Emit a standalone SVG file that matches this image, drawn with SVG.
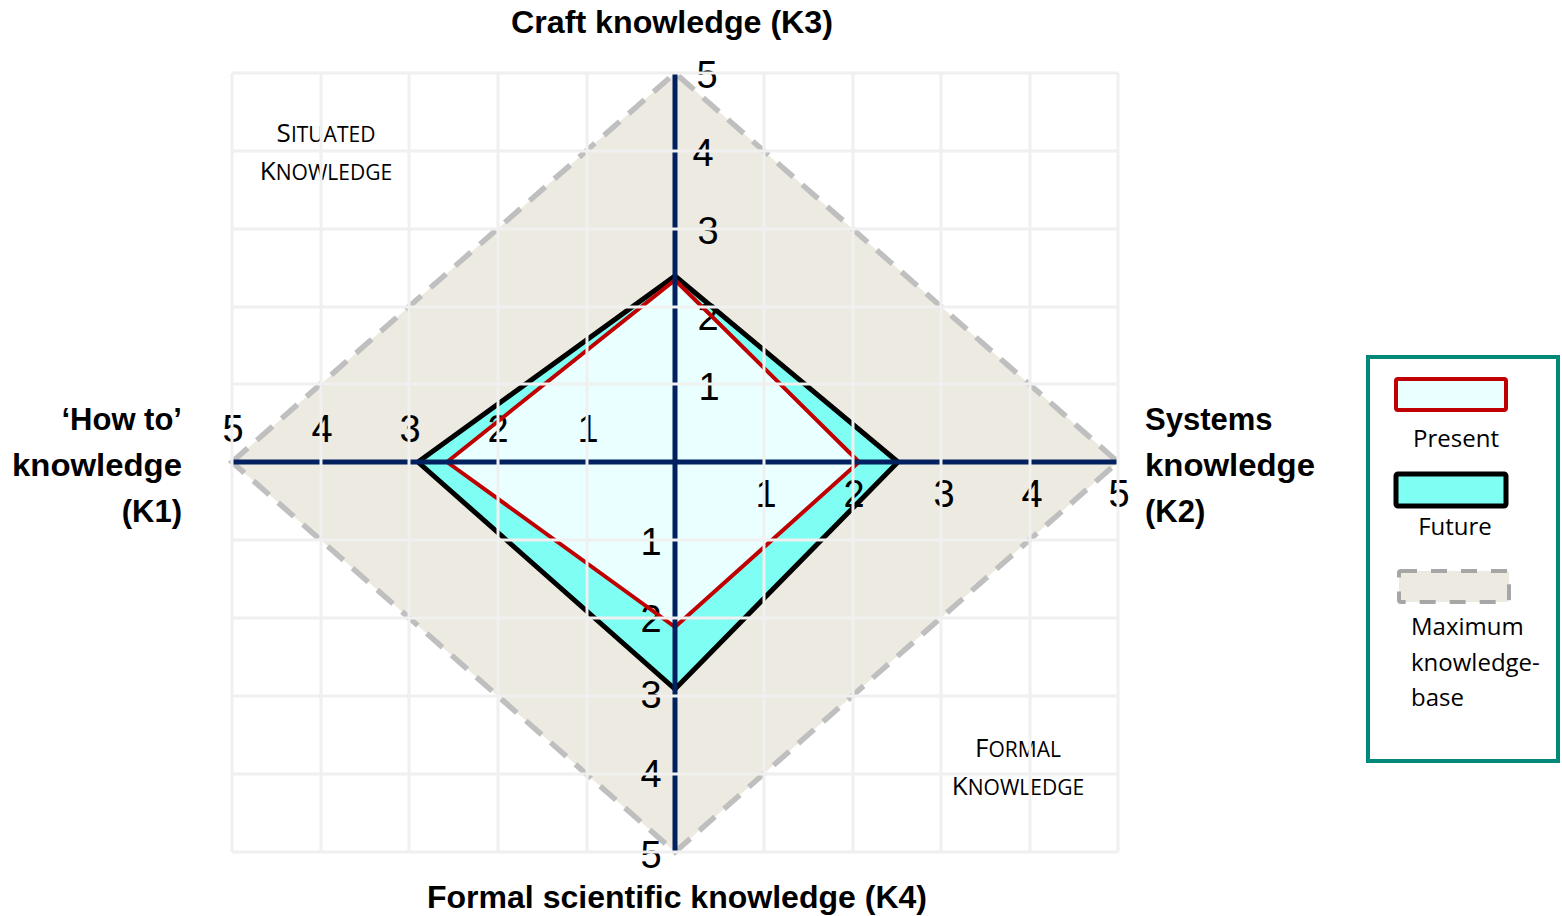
<svg xmlns="http://www.w3.org/2000/svg" width="1562" height="916" viewBox="0 0 1562 916">
<style>
.tick{font-family:"Liberation Sans",Arial,sans-serif;font-size:38px;fill:#000;text-anchor:middle}
.axt{font-family:"Liberation Sans",Arial,sans-serif;font-size:31px;font-weight:bold;fill:#000}
.sc{font-family:"Open Sans","Liberation Sans",sans-serif;font-size:21px;fill:#000;text-anchor:middle}
.lg{font-family:"Open Sans","Liberation Sans",sans-serif;font-size:24px;fill:#000}
.grid line{stroke:#f0f0f0;stroke-width:3}
.axis{stroke:#002060;stroke-width:5;fill:none}
.maxkb{fill:#edebe1;stroke:#bfbfbf;stroke-width:5.5;stroke-dasharray:21 12}
.futf{fill:#7ffff4;stroke:none}
.future{fill:none;stroke:#000;stroke-width:5}
.presf{fill:#eaffff;stroke:none}
.present{fill:none;stroke:#c00000;stroke-width:4}
</style>
<rect width="1562" height="916" fill="#fff"/>
<g id="max-knowledge-base">
<polygon class="maxkb" points="232,462 675,73 1118,462 675,852"/>
</g>
<g id="fills">
<polygon class="futf" points="418,462 675,276 898,462 675,689"/>
<polygon class="presf" points="447,462 675,280 859,462 675,627"/>
</g>
<g id="tick-labels">
<text class="tick" x="707" y="88">5</text>
<text class="tick" x="703" y="166">4</text>
<text class="tick" x="708" y="244">3</text>
<text class="tick" x="708" y="330">2</text>
<text class="tick" x="709" y="400">1</text>
<text class="tick" x="233" y="442">5</text>
<text class="tick" x="322" y="442">4</text>
<text class="tick" x="410" y="442">3</text>
<text class="tick" x="498" y="442">2</text>
<text class="tick" x="588" y="442">1</text>
<text class="tick" x="766" y="507">1</text>
<text class="tick" x="854" y="507">2</text>
<text class="tick" x="944" y="507">3</text>
<text class="tick" x="1032" y="507">4</text>
<text class="tick" x="1119" y="507">5</text>
<text class="tick" x="651" y="555">1</text>
<text class="tick" x="651" y="632">2</text>
<text class="tick" x="651" y="708">3</text>
<text class="tick" x="651" y="787">4</text>
<text class="tick" x="651" y="868">5</text>
</g>
<g id="future">
<polygon class="future" points="418,462 675,276 898,462 675,689"/>
</g>
<g id="present">
<polygon class="present" points="447,462 675,280 859,462 675,627"/>
</g>
<g id="axes" class="connectors">
<line class="axis" x1="232" y1="462" x2="1118" y2="462"/>
<line class="axis" x1="675" y1="73" x2="675" y2="852"/>
</g>
<g id="zone-labels">
<text class="sc" x="326" y="142"><tspan font-size="26">S</tspan>ITUATED</text>
<text class="sc" x="326" y="180"><tspan font-size="26">K</tspan>NOWLEDGE</text>
<text class="sc" x="1018" y="757"><tspan font-size="26">F</tspan>ORMAL</text>
<text class="sc" x="1018" y="795"><tspan font-size="26">K</tspan>NOWLEDGE</text>
</g>
<g class="grid" id="grid">
<line x1="232" y1="73" x2="232" y2="852"/>
<line x1="321" y1="73" x2="321" y2="852"/>
<line x1="409" y1="73" x2="409" y2="852"/>
<line x1="498" y1="73" x2="498" y2="852"/>
<line x1="587" y1="73" x2="587" y2="852"/>
<line x1="764" y1="73" x2="764" y2="852"/>
<line x1="853" y1="73" x2="853" y2="852"/>
<line x1="941" y1="73" x2="941" y2="852"/>
<line x1="1030" y1="73" x2="1030" y2="852"/>
<line x1="1118" y1="73" x2="1118" y2="852"/>
<line x1="232" y1="73" x2="1118" y2="73"/>
<line x1="232" y1="151" x2="1118" y2="151"/>
<line x1="232" y1="229" x2="1118" y2="229"/>
<line x1="232" y1="307" x2="1118" y2="307"/>
<line x1="232" y1="384" x2="1118" y2="384"/>
<line x1="232" y1="540" x2="1118" y2="540"/>
<line x1="232" y1="618" x2="1118" y2="618"/>
<line x1="232" y1="696" x2="1118" y2="696"/>
<line x1="232" y1="774" x2="1118" y2="774"/>
<line x1="232" y1="852" x2="1118" y2="852"/>
</g>
<g id="axis-titles">
<text class="axt" x="672" y="33" text-anchor="middle" textLength="322" lengthAdjust="spacingAndGlyphs">Craft knowledge (K3)</text>
<text class="axt" x="677" y="908" text-anchor="middle" textLength="500" lengthAdjust="spacingAndGlyphs">Formal scientific knowledge (K4)</text>
<text class="axt" x="182" y="430" text-anchor="end">‘How to’</text>
<text class="axt" x="182" y="476" text-anchor="end" textLength="170" lengthAdjust="spacingAndGlyphs">knowledge</text>
<text class="axt" x="182" y="522" text-anchor="end">(K1)</text>
<text class="axt" x="1145" y="430">Systems</text>
<text class="axt" x="1145" y="476" textLength="170" lengthAdjust="spacingAndGlyphs">knowledge</text>
<text class="axt" x="1145" y="522">(K2)</text>
</g>
<g id="legend">
<rect x="1368" y="357" width="190" height="404" fill="#fff" stroke="#00897b" stroke-width="4"/>
<rect x="1396" y="379" width="110" height="31" rx="2" fill="#eaffff" stroke="#c00000" stroke-width="4"/>
<text class="lg" x="1456" y="447" text-anchor="middle">Present</text>
<rect x="1396" y="474" width="110" height="32" rx="2" fill="#7ffff4" stroke="#000" stroke-width="5"/>
<text class="lg" x="1455" y="535" text-anchor="middle">Future</text>
<rect x="1399" y="571" width="110" height="31" rx="2" fill="#edebe1" stroke="#a6a6a6" stroke-width="4" stroke-dasharray="16 14"/>
<text class="lg" x="1411" y="635">Maximum</text>
<text class="lg" x="1411" y="671">knowledge-</text>
<text class="lg" x="1411" y="706">base</text>
</g>
</svg>
